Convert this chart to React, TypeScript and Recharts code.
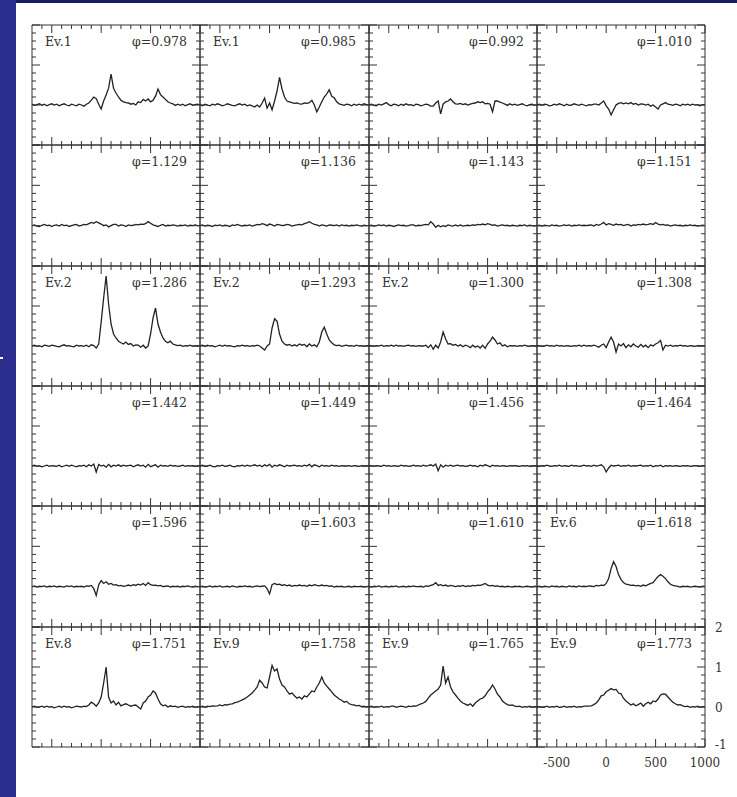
import React from 'react';
import { LineChart, Line, XAxis, YAxis } from 'recharts';

// velocity grid (km/s)
const VELOCITY = [
  -700, -675, -650, -625, -600, -575, -550, -525, -500, -475,
  -450, -425, -400, -375, -350, -325, -300, -275, -250, -225,
  -200, -175, -150, -125, -100, -75, -50, -25, 0, 25,
  50, 75, 100, 125, 150, 175, 200, 225, 250, 275,
  300, 325, 350, 375, 400, 425, 450, 475, 500, 525,
  550, 575, 600, 625, 650, 675, 700, 725, 750, 775,
  800, 825, 850, 875, 900, 925, 950, 975, 1000,
];

const X_TICKS = [-600, -500, -400, -300, -200, -100, 0, 100, 200, 300, 400, 500, 600, 700, 800, 900, 1000];
const X_MAJOR = [-500, 0, 500, 1000];
const Y_TICKS = [-1, -0.8, -0.6, -0.4, -0.2, 0, 0.2, 0.4, 0.6, 0.8, 1, 1.2, 1.4, 1.6, 1.8, 2];
const Y_MAJOR = [-1, 0, 1, 2];

// row 1
const p0978 = [
  0.02, -0.01, 0.01, 0.03, -0.01, 0.02, -0.02, 0.01, 0.03, 0.00,
  0.02, -0.02, 0.01, 0.03, 0.00, -0.02, 0.02, 0.00, -0.02, 0.02,
  0.00, -0.03, 0.02, 0.05, 0.12, 0.20, 0.16, 0.02, -0.10, 0.10,
  0.25, 0.42, 0.77, 0.42, 0.30, 0.20, 0.12, 0.08, 0.06, 0.05,
  0.02, 0.04, 0.00, 0.08, 0.06, 0.14, 0.10, 0.15, 0.08, 0.12,
  0.22, 0.40, 0.26, 0.20, 0.14, 0.08, 0.05, 0.03, -0.01, 0.02,
  -0.01, 0.02, -0.02, 0.01, 0.03, -0.01, 0.01, 0.02, 0.00,
];
const p0985 = [
  0.01, -0.02, 0.02, 0.00, -0.02, 0.02, 0.00, 0.03, 0.01, -0.02,
  0.00, 0.03, 0.01, -0.01, -0.02, 0.01, 0.03, 0.00, 0.02, -0.02,
  0.00, -0.02, -0.05, 0.00, -0.05, 0.05, 0.17, -0.08, 0.05, -0.12,
  0.10, 0.35, 0.69, 0.40, 0.20, 0.10, 0.08, 0.06, 0.04, 0.05,
  0.03, 0.02, 0.05, 0.04, 0.06, 0.12, 0.00, -0.17, -0.05, 0.08,
  0.20, 0.28, 0.38, 0.22, 0.18, 0.08, 0.03, 0.01, -0.01, 0.02,
  0.01, -0.02, 0.02, -0.01, 0.02, 0.00, 0.03, 0.01, -0.01,
];
const p0992 = [
  0.00, 0.02, -0.01, -0.02, 0.02, 0.00, 0.03, 0.06, 0.01, -0.02,
  0.02, 0.01, -0.02, 0.02, -0.01, 0.03, 0.00, 0.01, -0.02, 0.02,
  0.01, -0.02, 0.00, 0.02, 0.01, -0.03, -0.03, 0.05, 0.10, -0.22,
  0.02, 0.08, 0.10, 0.15, 0.08, 0.03, 0.02, 0.04, 0.01, 0.03,
  0.00, 0.02, 0.04, 0.05, 0.08, 0.06, 0.08, 0.03, 0.04, 0.02,
  -0.17, 0.10, 0.10, 0.07, 0.05, 0.02, -0.01, 0.03, 0.00, 0.02,
  -0.01, 0.01, 0.03, 0.00, -0.02, 0.01, 0.02, -0.01, 0.01,
];
const p1010 = [
  0.00, 0.02, -0.01, 0.02, 0.01, -0.02, -0.01, 0.02, 0.00, 0.03,
  0.01, -0.02, 0.02, -0.01, 0.00, 0.03, 0.01, -0.01, 0.02, 0.00,
  -0.02, 0.01, 0.00, 0.02, 0.02, 0.00, 0.05, 0.10, -0.02, -0.10,
  -0.25, -0.12, 0.00, 0.04, 0.06, 0.03, 0.05, 0.03, 0.06, 0.02,
  0.04, 0.00, 0.03, 0.02, 0.00, 0.02, -0.03, 0.00, -0.05, -0.10,
  0.00, 0.03, 0.06, 0.02, 0.01, -0.01, 0.02, 0.01, -0.02, 0.02,
  0.00, 0.02, -0.01, 0.02, 0.00, 0.01, -0.02, 0.01, 0.00,
];

// row 2
const p1129 = [
  0.00, 0.02, -0.01, -0.02, 0.01, 0.03, 0.00, 0.01, -0.02, 0.01,
  0.02, -0.01, 0.03, 0.00, 0.01, -0.02, 0.00, 0.02, 0.03, -0.01,
  0.01, 0.03, 0.02, 0.05, 0.08, 0.06, 0.10, 0.07, 0.04, 0.00,
  0.02, -0.03, 0.00, 0.03, 0.03, -0.01, 0.02, 0.01, -0.02, 0.02,
  0.00, 0.01, 0.03, 0.02, 0.04, 0.03, 0.05, 0.10, 0.06, 0.02,
  0.00, -0.02, 0.01, 0.03, -0.01, 0.01, 0.00, 0.02, 0.01, -0.01,
  0.01, 0.00, 0.02, -0.01, 0.01, 0.00, 0.02, 0.00, 0.00,
];
const p1136 = [
  0.00, 0.02, -0.01, 0.01, 0.00, -0.02, 0.01, 0.00, 0.02, -0.01,
  0.01, 0.00, -0.02, 0.02, 0.00, 0.03, 0.01, -0.01, 0.01, 0.00,
  0.02, -0.01, 0.01, 0.03, 0.02, 0.05, 0.03, 0.00, 0.04, 0.02,
  -0.01, 0.03, 0.02, 0.00, 0.01, 0.03, 0.02, -0.01, 0.01, 0.02,
  0.03, 0.02, 0.05, 0.07, 0.10, 0.06, 0.03, 0.02, -0.01, 0.02,
  0.01, -0.01, 0.02, 0.01, 0.00, 0.02, -0.01, 0.02, 0.00, 0.01,
  -0.01, 0.01, 0.00, 0.02, 0.00, -0.01, 0.01, 0.00, 0.00,
];
const p1143 = [
  0.00, 0.01, -0.01, 0.00, 0.02, 0.00, 0.02, -0.01, 0.01, 0.00,
  -0.02, 0.00, 0.02, 0.00, 0.01, -0.01, 0.00, 0.02, 0.02, -0.01,
  0.01, 0.00, 0.02, 0.03, 0.02, 0.10, 0.04, -0.04, 0.01, -0.03,
  0.00, -0.02, 0.02, 0.00, -0.01, 0.02, -0.01, 0.02, -0.01, 0.00,
  0.01, 0.00, 0.02, 0.01, 0.03, 0.02, 0.04, 0.02, 0.05, 0.03,
  0.01, 0.02, -0.01, 0.01, 0.02, 0.00, 0.01, -0.01, 0.01, 0.00,
  -0.01, 0.01, 0.00, 0.02, -0.01, 0.01, 0.00, -0.01, 0.01,
];
const p1151 = [
  0.00, 0.01, -0.01, 0.01, 0.00, -0.01, 0.02, 0.00, 0.01, -0.01,
  0.00, 0.02, 0.00, 0.02, -0.01, 0.01, 0.00, 0.02, 0.00, 0.01,
  0.00, 0.01, 0.02, -0.01, 0.03, 0.01, 0.04, 0.08, 0.02, 0.05,
  0.03, 0.01, 0.04, 0.02, 0.03, 0.00, 0.02, 0.03, -0.01, 0.02,
  0.01, 0.03, 0.02, 0.04, 0.02, 0.03, 0.05, 0.03, 0.08, 0.04,
  0.02, 0.03, 0.01, 0.02, -0.01, 0.01, 0.02, 0.00, 0.01, -0.01,
  0.01, 0.00, 0.02, 0.00, 0.01, -0.01, 0.00, 0.01, 0.00,
];

// row 3
const p1286 = [
  0.00, 0.02, -0.01, 0.01, -0.02, 0.02, 0.01, -0.01, 0.02, 0.01,
  -0.01, -0.02, 0.01, 0.03, 0.00, 0.01, -0.01, -0.02, 0.02, 0.00,
  0.01, -0.01, 0.02, -0.02, 0.03, 0.01, -0.05, 0.05, 0.60, 1.20,
  1.75, 1.05, 0.55, 0.30, 0.20, 0.12, 0.08, 0.05, 0.10, 0.04,
  0.06, 0.00, 0.03, 0.02, -0.03, 0.02, -0.05, 0.00, 0.30, 0.70,
  0.95, 0.55, 0.35, 0.20, 0.12, 0.08, 0.12, 0.05, 0.03, 0.01,
  0.02, -0.01, 0.01, 0.00, 0.02, -0.01, 0.01, 0.00, 0.01,
];
const p1293 = [
  0.00, 0.02, -0.01, 0.02, 0.00, 0.01, -0.02, 0.00, 0.02, -0.01,
  0.02, 0.00, 0.01, -0.01, -0.02, 0.01, 0.00, 0.02, 0.00, 0.01,
  -0.01, 0.01, 0.00, 0.02, 0.00, -0.05, -0.10, 0.00, 0.05, 0.45,
  0.68, 0.62, 0.30, 0.12, 0.05, 0.02, 0.04, 0.00, 0.03, 0.00,
  0.05, 0.02, 0.04, -0.02, 0.05, 0.00, 0.03, -0.02, 0.10, 0.35,
  0.47, 0.30, 0.15, 0.08, 0.03, 0.01, 0.02, -0.01, 0.01, 0.02,
  0.00, 0.01, -0.01, 0.02, 0.00, 0.01, -0.01, 0.01, 0.00,
];
const p1300 = [
  0.00, 0.01, -0.01, 0.01, 0.00, 0.02, -0.01, 0.01, 0.00, 0.02,
  -0.01, 0.02, 0.00, 0.01, -0.01, 0.01, 0.02, 0.00, 0.01, -0.01,
  0.01, 0.00, 0.00, 0.02, -0.04, 0.03, -0.08, 0.02, -0.05, 0.10,
  0.35, 0.18, 0.05, 0.06, 0.02, 0.04, 0.00, 0.03, -0.02, 0.02,
  0.00, -0.04, 0.02, -0.03, 0.00, -0.05, 0.02, -0.06, 0.05, 0.12,
  0.22, 0.15, 0.05, 0.08, 0.00, 0.03, -0.02, 0.01, 0.00, 0.01,
  -0.01, 0.01, 0.00, 0.02, 0.00, -0.01, 0.01, 0.00, 0.00,
];
const p1308 = [
  0.00, 0.01, -0.01, 0.00, 0.02, 0.00, 0.01, -0.01, 0.02, 0.00,
  0.01, -0.01, 0.01, 0.00, -0.01, 0.01, 0.00, 0.02, -0.01, 0.02,
  0.00, 0.01, 0.00, 0.02, 0.00, -0.03, 0.02, 0.05, -0.04, 0.10,
  0.22, 0.10, -0.15, 0.05, 0.00, 0.06, -0.04, 0.03, -0.02, 0.05,
  0.00, -0.03, 0.04, -0.02, 0.02, -0.04, 0.03, 0.00, 0.05, 0.08,
  0.14, -0.10, 0.02, 0.00, 0.02, -0.01, 0.01, 0.00, 0.02, 0.00,
  0.01, -0.01, 0.01, 0.00, -0.01, 0.01, 0.00, 0.01, 0.00,
];

// row 4
const p1442 = [
  0.00, 0.02, -0.01, 0.01, -0.02, 0.00, 0.02, -0.01, 0.01, 0.00,
  -0.01, 0.02, -0.02, 0.00, 0.02, -0.01, 0.02, 0.00, -0.02, 0.01,
  0.00, 0.02, -0.02, 0.03, 0.00, 0.05, -0.15, 0.04, 0.00, 0.02,
  -0.03, 0.04, -0.02, 0.02, 0.00, 0.03, -0.01, 0.02, 0.00, 0.01,
  0.02, -0.02, 0.01, 0.03, 0.00, 0.02, -0.03, 0.04, -0.02, 0.01,
  0.03, -0.03, 0.02, 0.00, 0.01, -0.01, 0.02, 0.00, 0.01, -0.01,
  0.00, 0.02, -0.01, 0.01, 0.00, 0.01, -0.01, 0.00, 0.01,
];
const p1449 = [
  0.00, 0.02, -0.01, 0.00, 0.02, -0.01, -0.02, 0.01, 0.00, 0.02,
  -0.01, 0.00, 0.02, -0.01, -0.02, 0.01, 0.00, 0.02, -0.01, 0.02,
  0.00, 0.01, 0.03, 0.00, 0.02, -0.02, 0.03, 0.00, 0.04, -0.03,
  0.02, 0.00, 0.03, 0.01, -0.02, 0.02, 0.00, 0.01, 0.02, 0.00,
  0.01, -0.01, 0.02, 0.00, 0.04, -0.02, 0.03, 0.01, -0.02, 0.02,
  0.00, 0.01, -0.01, 0.02, 0.00, 0.01, -0.01, 0.01, 0.00, 0.00,
  0.01, -0.01, 0.01, 0.00, -0.01, 0.01, 0.00, 0.00, 0.01,
];
const p1456 = [
  0.00, 0.01, -0.01, 0.01, 0.00, -0.01, 0.02, 0.00, 0.01, -0.01,
  0.01, 0.00, -0.01, 0.02, 0.00, 0.01, -0.01, 0.00, 0.02, 0.00,
  0.01, -0.01, 0.02, 0.00, 0.01, 0.03, 0.00, 0.05, -0.12, 0.03,
  -0.03, 0.02, 0.00, 0.02, -0.01, 0.01, 0.02, 0.00, 0.01, -0.01,
  0.00, 0.02, 0.00, 0.01, -0.02, 0.02, 0.00, 0.03, 0.01, -0.02,
  0.02, 0.00, 0.01, -0.01, 0.01, 0.00, -0.01, 0.01, 0.00, 0.01,
  0.00, -0.01, 0.01, 0.00, 0.01, -0.01, 0.00, 0.01, 0.00,
];
const p1464 = [
  0.00, -0.01, 0.01, 0.00, 0.02, 0.00, -0.01, 0.01, 0.00, 0.02,
  -0.01, 0.01, 0.00, -0.01, 0.02, 0.00, 0.01, -0.01, 0.00, 0.02,
  0.00, 0.01, -0.01, 0.02, 0.00, 0.01, 0.03, -0.02, -0.15, -0.05,
  0.02, 0.00, 0.01, 0.02, -0.01, 0.01, 0.00, 0.02, -0.01, 0.01,
  0.00, 0.01, 0.02, -0.01, 0.01, 0.00, 0.02, -0.02, 0.01, 0.00,
  0.02, -0.02, 0.01, 0.00, 0.01, -0.01, 0.01, 0.00, -0.01, 0.01,
  0.00, 0.01, -0.01, 0.00, 0.01, 0.00, -0.01, 0.01, 0.00,
];

// row 5
const p1596 = [
  0.00, 0.02, -0.01, 0.01, 0.00, 0.02, -0.01, 0.01, 0.00, 0.02,
  -0.01, 0.01, 0.00, -0.01, 0.02, 0.00, 0.02, -0.01, 0.01, 0.00,
  0.01, -0.01, 0.02, 0.01, 0.03, -0.05, -0.22, 0.05, 0.15, 0.08,
  0.12, 0.06, 0.08, 0.04, 0.05, 0.02, 0.03, 0.01, 0.02, 0.04,
  0.02, 0.05, 0.03, 0.06, 0.04, 0.08, 0.03, 0.10, 0.05, 0.03,
  0.04, 0.02, 0.03, 0.00, 0.01, 0.02, -0.01, 0.01, 0.00, 0.01,
  -0.01, 0.01, 0.00, 0.02, 0.00, -0.01, 0.01, 0.00, 0.00,
];
const p1603 = [
  0.00, 0.01, -0.01, 0.00, 0.02, -0.01, 0.01, 0.00, 0.02, -0.01,
  0.00, 0.01, -0.01, 0.02, 0.00, -0.01, 0.01, 0.00, 0.02, 0.00,
  0.01, -0.01, 0.01, 0.02, 0.00, 0.01, 0.02, -0.05, -0.18, 0.05,
  0.08, 0.05, 0.06, 0.03, 0.05, 0.02, 0.04, 0.01, 0.03, 0.02,
  0.04, 0.02, 0.03, 0.01, 0.04, 0.02, 0.05, 0.03, 0.02, 0.04,
  0.02, 0.03, 0.01, 0.02, -0.01, 0.01, 0.00, 0.01, -0.01, 0.00,
  0.01, -0.01, 0.01, 0.00, 0.00, 0.01, -0.01, 0.00, 0.01,
];
const p1610 = [
  0.00, -0.01, 0.01, 0.00, 0.02, -0.01, 0.00, 0.01, -0.01, 0.01,
  0.00, 0.02, -0.01, 0.00, 0.01, -0.01, 0.01, 0.00, 0.02, 0.00,
  0.00, 0.01, -0.01, 0.02, 0.01, 0.03, 0.05, 0.10, 0.03, 0.05,
  0.02, 0.04, 0.01, 0.03, 0.02, 0.00, 0.02, 0.01, 0.03, 0.00,
  0.02, 0.01, 0.03, 0.02, 0.04, 0.03, 0.05, 0.08, 0.04, 0.02,
  0.03, 0.01, 0.02, 0.00, 0.01, -0.01, 0.01, 0.00, -0.01, 0.01,
  0.00, 0.01, -0.01, 0.00, 0.01, 0.00, -0.01, 0.01, 0.00,
];
const p1618 = [
  0.00, 0.01, -0.01, 0.01, 0.00, -0.01, 0.02, 0.00, 0.01, -0.01,
  0.01, 0.00, -0.01, 0.02, 0.00, 0.01, -0.01, 0.02, 0.00, 0.01,
  0.00, 0.02, 0.01, 0.00, 0.03, 0.02, 0.04, 0.03, 0.08, 0.20,
  0.45, 0.62, 0.50, 0.30, 0.18, 0.10, 0.06, 0.05, 0.03, 0.04,
  0.02, 0.03, 0.01, 0.04, 0.02, 0.05, 0.08, 0.10, 0.18, 0.25,
  0.30, 0.26, 0.20, 0.12, 0.06, 0.03, 0.02, 0.01, -0.01, 0.01,
  0.00, 0.01, -0.01, 0.00, 0.01, 0.00, -0.01, 0.01, 0.00,
];

// row 6
const p1751 = [
  0.00, 0.02, -0.01, 0.00, 0.02, -0.01, 0.02, 0.00, 0.01, -0.02,
  0.00, 0.02, -0.01, 0.02, 0.00, 0.01, -0.02, 0.00, 0.02, 0.01,
  0.00, 0.02, 0.01, 0.05, 0.12, 0.08, 0.02, 0.10, 0.25, 0.60,
  1.00, 0.25, 0.10, 0.15, 0.05, 0.12, 0.03, 0.06, 0.08, 0.05,
  0.02, 0.04, 0.05, 0.00, -0.05, 0.10, 0.15, 0.25, 0.30, 0.40,
  0.35, 0.20, 0.08, 0.03, 0.05, 0.00, 0.03, 0.01, 0.02, -0.01,
  0.01, 0.02, -0.01, 0.01, 0.00, 0.02, -0.01, 0.01, 0.00,
];
const p1758 = [
  0.00, 0.02, -0.01, 0.02, 0.01, 0.03, 0.02, 0.03, 0.05, 0.03,
  0.06, 0.05, 0.07, 0.08, 0.11, 0.12, 0.15, 0.18, 0.21, 0.25,
  0.30, 0.35, 0.42, 0.50, 0.67, 0.60, 0.50, 0.48, 0.75, 1.04,
  0.90, 0.95, 0.70, 0.55, 0.50, 0.40, 0.32, 0.35, 0.28, 0.22,
  0.25, 0.20, 0.28, 0.25, 0.33, 0.40, 0.38, 0.50, 0.60, 0.75,
  0.60, 0.52, 0.45, 0.38, 0.30, 0.25, 0.20, 0.17, 0.12, 0.14,
  0.08, 0.06, 0.05, 0.03, 0.04, 0.01, 0.02, 0.00, 0.01,
];
const p1765 = [
  0.00, 0.02, -0.01, 0.01, 0.00, 0.02, -0.01, 0.01, 0.00, 0.02,
  0.02, -0.01, 0.01, 0.02, 0.01, -0.01, 0.02, 0.01, 0.03, 0.02,
  0.05, 0.08, 0.10, 0.14, 0.22, 0.30, 0.35, 0.40, 0.45, 0.55,
  1.02, 0.60, 0.75, 0.50, 0.38, 0.30, 0.22, 0.15, 0.10, 0.07,
  0.04, 0.08, 0.02, 0.10, 0.15, 0.20, 0.22, 0.28, 0.38, 0.45,
  0.55, 0.45, 0.32, 0.25, 0.15, 0.10, 0.06, 0.04, 0.05, 0.02,
  0.01, 0.02, -0.01, 0.01, 0.00, 0.02, -0.01, 0.01, 0.00,
];
const p1773 = [
  0.00, 0.01, -0.01, 0.00, 0.02, -0.01, 0.01, 0.00, 0.02, -0.01,
  0.00, 0.02, -0.01, 0.01, 0.00, 0.02, -0.01, 0.01, 0.00, 0.02,
  0.02, 0.02, 0.03, 0.06, 0.10, 0.18, 0.28, 0.30, 0.38, 0.42,
  0.46, 0.43, 0.44, 0.35, 0.33, 0.22, 0.15, 0.10, 0.05, 0.08,
  0.03, 0.06, 0.10, 0.02, 0.08, 0.12, 0.08, 0.15, 0.13, 0.20,
  0.30, 0.33, 0.32, 0.25, 0.18, 0.12, 0.08, 0.05, 0.06, 0.03,
  0.01, 0.02, -0.01, 0.01, 0.00, 0.02, -0.01, 0.01, 0.00,
];

const SPECTRA = [
  p0978, p0985, p0992, p1010,
  p1129, p1136, p1143, p1151,
  p1286, p1293, p1300, p1308,
  p1442, p1449, p1456, p1464,
  p1596, p1603, p1610, p1618,
  p1751, p1758, p1765, p1773,
];
const EVENTS = [
  'Ev.1', 'Ev.1', '', '',
  '', '', '', '',
  'Ev.2', 'Ev.2', 'Ev.2', '',
  '', '', '', '',
  '', '', '', 'Ev.6',
  'Ev.8', 'Ev.9', 'Ev.9', 'Ev.9',
];
const PHASES = [
  '0.978', '0.985', '0.992', '1.010',
  '1.129', '1.136', '1.143', '1.151',
  '1.286', '1.293', '1.300', '1.308',
  '1.442', '1.449', '1.456', '1.464',
  '1.596', '1.603', '1.610', '1.618',
  '1.751', '1.758', '1.765', '1.773',
];

const INK = '#333333';
const FONT = '"DejaVu Serif", serif';
const GRID_LEFT = 32;
const GRID_TOP = 25;
const CELL_W = 168.25;
const CELL_H = 120.33;
const AX = 1; // tiny axis band so recharts still draws the frame

type Side = 'top' | 'bottom' | 'left' | 'right';

const makeTick = (side: Side, labelled: boolean) => (props: any) => {
  const { x, y, payload } = props;
  const v = payload.value;
  const horiz = side === 'top' || side === 'bottom';
  const major = horiz ? X_MAJOR.includes(v) : Y_MAJOR.includes(v);
  const len = major ? 8 : 4;
  let x2 = x;
  let y2 = y;
  if (side === 'bottom') y2 = y - len;
  if (side === 'top') y2 = y + len;
  if (side === 'left') x2 = x + len;
  if (side === 'right') x2 = x - len;
  return (
    <g>
      <line x1={x} y1={y} x2={x2} y2={y2} stroke={INK} strokeWidth={1} />
      {labelled && major && side === 'bottom' && (
        <text x={x} y={y + 20} textAnchor="middle" fontFamily={FONT} fontSize={12} fill={INK}>
          {v}
        </text>
      )}
      {labelled && major && side === 'right' && (
        <text x={x + 10} y={y + (v === -1 ? 2 : 4.5)} textAnchor="start" fontFamily={FONT} fontSize={12} fill={INK}>
          {v}
        </text>
      )}
    </g>
  );
};

const Panel = ({ idx }: { idx: number }) => {
  const row = Math.floor(idx / 4);
  const col = idx % 4;
  const left = Math.round(GRID_LEFT + col * CELL_W);
  const top = Math.round(GRID_TOP + row * CELL_H);
  const width = Math.round(GRID_LEFT + (col + 1) * CELL_W) - left;
  const height = Math.round(GRID_TOP + (row + 1) * CELL_H) - top;
  const labelled = idx === 23;
  const spectrum = SPECTRA[idx];
  const data = VELOCITY.map((v, i) => ({ v, flux: spectrum[i] }));
  const axisLine = { stroke: INK, strokeWidth: 1 };

  return (
    <div style={{ position: 'absolute', left: left - AX, top: top - AX, width: width + 2 * AX, height: height + 2 * AX }}>
      <LineChart width={width + 2 * AX} height={height + 2 * AX} data={data}
        margin={{ top: 0, right: 0, bottom: 0, left: 0 }}>
        <XAxis xAxisId="b" dataKey="v" type="number" domain={[-700, 1000]} allowDataOverflow
          orientation="bottom" height={AX} ticks={X_TICKS} interval={0} tickSize={0} tickMargin={0}
          tickLine={false} axisLine={axisLine} tick={makeTick('bottom', labelled)} />
        <XAxis xAxisId="t" dataKey="v" type="number" domain={[-700, 1000]} allowDataOverflow
          orientation="top" height={AX} ticks={X_TICKS} interval={0} tickSize={0} tickMargin={0}
          tickLine={false} axisLine={axisLine} tick={makeTick('top', false)} />
        <YAxis yAxisId="l" type="number" domain={[-1, 2]} allowDataOverflow
          orientation="left" width={AX} ticks={Y_TICKS} interval={0} tickSize={0} tickMargin={0}
          tickLine={false} axisLine={axisLine} tick={makeTick('left', false)} />
        <YAxis yAxisId="r" type="number" domain={[-1, 2]} allowDataOverflow
          orientation="right" width={AX} ticks={Y_TICKS} interval={0} tickSize={0} tickMargin={0}
          tickLine={false} axisLine={axisLine} tick={makeTick('right', labelled)} />
        <Line xAxisId="t" yAxisId="r" dataKey="flux" stroke="none" dot={false} activeDot={false}
          isAnimationActive={false} />
        <Line xAxisId="b" yAxisId="l" type="linear" dataKey="flux" stroke="#222222" strokeWidth={1.3}
          dot={false} activeDot={false} isAnimationActive={false} />
      </LineChart>
      <div style={{
        position: 'absolute', left: AX, top: 11 + AX, width, boxSizing: 'border-box',
        padding: '0 13px', display: 'flex', justifyContent: 'space-between',
        fontFamily: FONT, fontSize: 12.5, lineHeight: 1, color: INK, pointerEvents: 'none',
      }}>
        <span>{EVENTS[idx]}</span>
        <span>φ={PHASES[idx]}</span>
      </div>
    </div>
  );
};

export default function App() {
  return (
    <div style={{ position: 'relative', width: 737, height: 797, background: '#fff', overflow: 'hidden' }}>
      <style>{'body{margin:0} .recharts-surface{overflow:visible}'}</style>
      <div style={{ position: 'absolute', left: 0, top: 0, width: 737, height: 3, background: '#1c1d5e' }} />
      <div style={{ position: 'absolute', left: 0, top: 0, width: 16, height: 797, background: '#2b2e8e' }} />
      <div style={{ position: 'absolute', left: 0, top: 357, width: 3, height: 2, background: '#fff' }} />
      {SPECTRA.map((_, i) => (
        <Panel key={i} idx={i} />
      ))}
    </div>
  );
}
